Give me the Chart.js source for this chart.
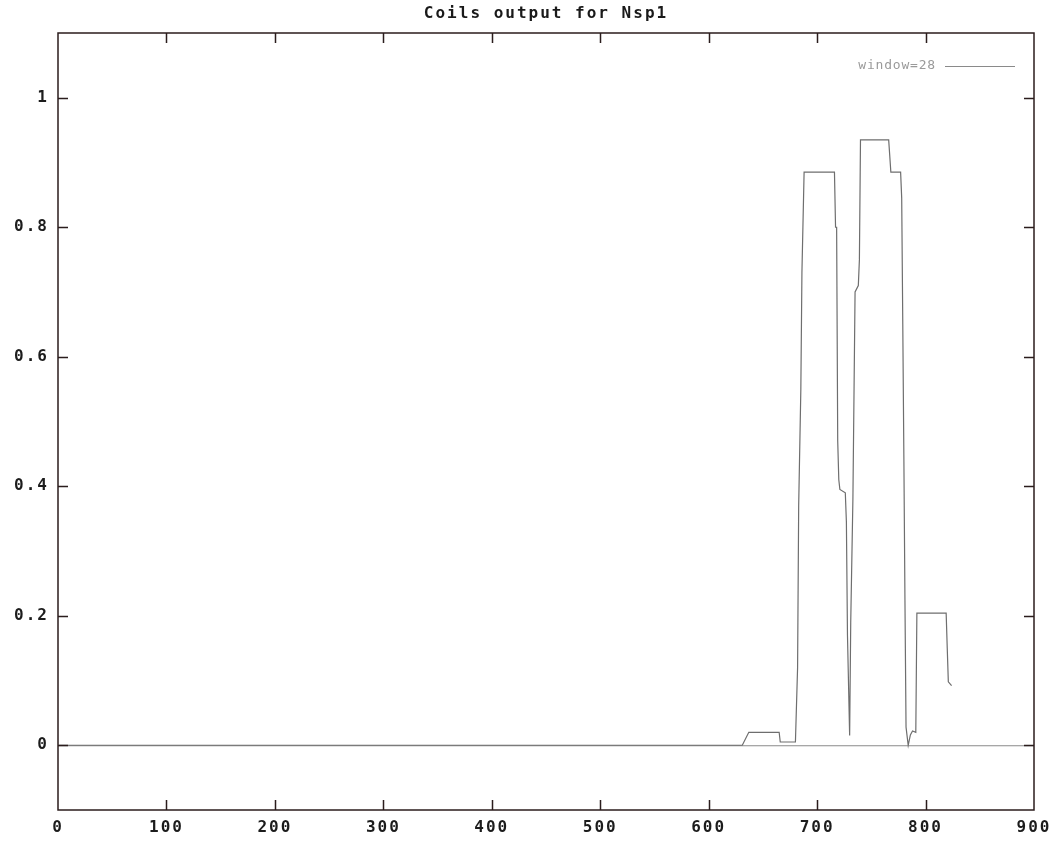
<!DOCTYPE html>
<html>
<head>
<meta charset="utf-8">
<script src="https://cdn.jsdelivr.net/npm/chart.js@4.4.1/dist/chart.umd.min.js"></script>
<style>
  html, body { margin: 0; padding: 0; background: #ffffff; }
  #wrap { width: 1054px; height: 843px; }
</style>
</head>
<body>
<div id="wrap"><canvas id="c" width="1054" height="843"></canvas></div>
<script>
// ---- data ----
const chartTitle = "Coils output for Nsp1";
const seriesLabel = "window=28";
const residue = [1, 631, 637, 665, 666, 680, 682, 683, 685, 686, 688, 716, 717, 718, 719, 720, 721, 726, 727, 728, 730, 731, 733, 735, 738, 739, 740, 766, 767, 768, 777, 778, 779, 780, 781, 782, 784, 786, 788, 791, 792, 819, 820, 821, 824];
const coilProb = [0, 0, 0.02, 0.02, 0.005, 0.005, 0.12, 0.37, 0.55, 0.73, 0.885, 0.885, 0.80, 0.80, 0.47, 0.41, 0.395, 0.39, 0.345, 0.17, 0.015, 0.19, 0.38, 0.70, 0.71, 0.75, 0.935, 0.935, 0.91, 0.885, 0.885, 0.845, 0.65, 0.445, 0.224, 0.028, 0.0, 0.016, 0.022, 0.02, 0.204, 0.204, 0.15, 0.098, 0.092];
const xTicks = [0, 100, 200, 300, 400, 500, 600, 700, 800, 900];
const yTicks = [0, 0.2, 0.4, 0.6, 0.8, 1];
const xRange = [0, 900];
const yRange = [-0.1, 1.1];

const points = residue.map((r, i) => ({ x: r, y: coilProb[i] }));

const frameColor = '#2b1d1d';
const tickLen = 10;
const spacing = '2px';

const gnuplotFrame = {
  id: 'gnuplotFrame',
  beforeUpdate(chart) { chart.ctx.letterSpacing = spacing; },
  beforeLayout(chart) { chart.ctx.letterSpacing = spacing; },
  beforeDraw(chart) { chart.ctx.letterSpacing = spacing; },
  beforeDatasetsDraw(chart) {
    const { ctx, chartArea: a, scales } = chart;
    const y0 = scales.y.getPixelForValue(0);
    ctx.save();
    ctx.strokeStyle = '#8a8a8a';
    ctx.lineWidth = 1;
    ctx.beginPath();
    ctx.moveTo(a.left, y0 + 0.5);
    ctx.lineTo(a.right, y0 + 0.5);
    ctx.stroke();
    ctx.restore();
  },
  afterDatasetsDraw(chart) {
    const { ctx, chartArea: a, scales } = chart;
    ctx.save();
    ctx.strokeStyle = frameColor;
    ctx.lineWidth = 1.5;
    ctx.strokeRect(a.left, a.top, a.right - a.left, a.bottom - a.top);
    ctx.beginPath();
    xTicks.forEach(v => {
      if (v === xRange[0] || v === xRange[1]) return;
      const px = Math.round(scales.x.getPixelForValue(v)) + 0.5;
      ctx.moveTo(px, a.bottom); ctx.lineTo(px, a.bottom - tickLen);
      ctx.moveTo(px, a.top); ctx.lineTo(px, a.top + tickLen);
    });
    yTicks.forEach(v => {
      const py = Math.round(scales.y.getPixelForValue(v)) + 0.5;
      ctx.moveTo(a.left, py); ctx.lineTo(a.left + tickLen, py);
      ctx.moveTo(a.right, py); ctx.lineTo(a.right - tickLen, py);
    });
    ctx.stroke();

    // key at top right inside the plot
    const ly = a.top + 33;
    ctx.font = '13px "DejaVu Sans Mono", monospace';
    ctx.letterSpacing = '0.8px';
    ctx.fillStyle = '#9a9a9a';
    ctx.textAlign = 'right';
    ctx.textBaseline = 'middle';
    ctx.fillText(chart.data.datasets[0].label, a.right - 98, ly);
    ctx.strokeStyle = '#8a8a8a';
    ctx.lineWidth = 1;
    ctx.beginPath();
    ctx.moveTo(a.right - 89, ly + 0.5);
    ctx.lineTo(a.right - 19, ly + 0.5);
    ctx.stroke();
    ctx.restore();
    ctx.letterSpacing = spacing;
  }
};

const monoFont = '"DejaVu Sans Mono", monospace';

new Chart(document.getElementById('c'), {
  type: 'line',
  data: {
    datasets: [{
      label: seriesLabel,
      data: points,
      borderColor: '#6e6e6e',
      borderWidth: 1.2,
      pointRadius: 0,
      tension: 0,
      fill: false
    }]
  },
  options: {
    responsive: false,
    animation: false,
    events: [],
    layout: { padding: { left: 0, right: 20, top: 0, bottom: 0 } },
    plugins: {
      legend: { display: false },
      tooltip: { enabled: false },
      title: {
        display: true,
        text: chartTitle,
        fullSize: false,
        color: '#1a1a1a',
        font: { family: monoFont, size: 16, weight: 'bold', lineHeight: 1.2 },
        padding: { top: 4, bottom: 9.8 }
      }
    },
    scales: {
      x: {
        type: 'linear',
        min: xRange[0],
        max: xRange[1],
        afterBuildTicks: s => { s.ticks = xTicks.map(v => ({ value: v })); },
        afterFit: s => { s.height = 33; s.paddingLeft = 0; s.paddingRight = 0; },
        grid: { display: false, drawTicks: false },
        border: { display: false },
        ticks: {
          color: '#1c1c1c',
          padding: 8,
          maxRotation: 0,
          autoSkip: false,
          font: { family: monoFont, size: 16, weight: 'bold' },
          callback: v => String(v)
        }
      },
      y: {
        type: 'linear',
        min: yRange[0],
        max: yRange[1],
        afterBuildTicks: s => { s.ticks = yTicks.map(v => ({ value: v })); },
        afterFit: s => { s.width = 58; s.paddingTop = 0; s.paddingBottom = 0; },
        grid: { display: false, drawTicks: false },
        border: { display: false },
        ticks: {
          color: '#1c1c1c',
          padding: 9,
          autoSkip: false,
          font: { family: monoFont, size: 16, weight: 'bold' },
          callback: v => String(Math.round(v * 10) / 10)
        }
      }
    }
  },
  plugins: [gnuplotFrame]
});
</script>
</body>
</html>
